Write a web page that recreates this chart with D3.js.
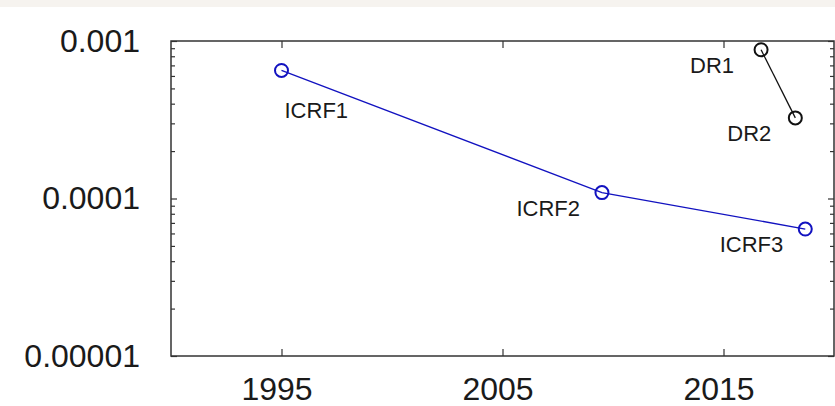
<!DOCTYPE html>
<html>
<head>
<meta charset="utf-8">
<script src="https://cdn.jsdelivr.net/npm/d3@7"></script>
<style>
  body { margin: 0; background: #fff; }
  text { font-family: "Liberation Sans", Arial, sans-serif; fill: #1a1a1a; }
</style>
</head>
<body>
<div id="chart"></div>
<script>
// data
var icrfYears = [1995, 2009.5, 2018.7];
var icrfValues = [6.5e-4, 1.09e-4, 6.4e-5];
var icrfLabels = ["ICRF1", "ICRF2", "ICRF3"];

var drYears = [2016.7, 2018.25];
var drValues = [8.8e-4, 3.25e-4];
var drLabels = ["DR1", "DR2"];

var xTicks = [1995, 2005, 2015];
var yTicks = [1e-5, 1e-4, 1e-3];
var yTickLabels = ["0.00001", "0.0001", "0.001"];

// label placement (anchor, dx, dy)
var icrfLabelPos = [["start", 3, 48], ["end", -22, 23], ["end", -22, 23]];
var drLabelPos = [["end", -27, 23], ["end", -24, 23]];

var svgWidth = 835;
var svgHeight = 406;
var margin = { top: 41, right: 1, bottom: 50, left: 171 };
var width = svgWidth - margin.left - margin.right;
var height = svgHeight - margin.top - margin.bottom;

var svg = d3.select("#chart")
  .append("svg")
  .attr("width", svgWidth)
  .attr("height", svgHeight);

// faint band along the top
svg.append("rect")
  .attr("x", 0).attr("y", 0)
  .attr("width", svgWidth).attr("height", 7)
  .attr("fill", "#f6f3ef");

var g = svg.append("g")
  .attr("transform", `translate(${margin.left}, ${margin.top})`);

var x = d3.scaleLinear().domain([1990, 2020]).range([0, width]);
var y = d3.scaleLog().domain([1e-5, 1e-3]).range([height, 0]);

var minorY = [];
[1e-5, 1e-4].forEach(function(d) {
  for (var k = 2; k <= 9; k++) minorY.push(d * k);
});

function style(sel) {
  sel.select(".domain").remove();
  sel.selectAll(".tick line").attr("stroke", "#333").attr("stroke-width", 1.2);
}

// bottom axis with labels
g.append("g")
  .attr("transform", `translate(0, ${height})`)
  .call(d3.axisBottom(x).tickValues(xTicks).tickFormat(d3.format("d")).tickSize(-7).tickPadding(21))
  .call(style)
  .selectAll("text")
  .attr("dx", -5)
  .style("font-size", "32px")
  .style("font-family", "Liberation Sans, Arial, sans-serif")
  .attr("fill", "#1a1a1a");

// top axis (ticks only)
g.append("g")
  .call(d3.axisTop(x).tickValues(xTicks).tickFormat("").tickSize(-7))
  .call(style);

// left axis with labels
g.append("g")
  .call(d3.axisLeft(y).tickValues(yTicks).tickFormat((d, i) => yTickLabels[i]).tickSize(-6).tickPadding(31))
  .call(style)
  .selectAll("text")
  .style("font-size", "32px")
  .style("font-family", "Liberation Sans, Arial, sans-serif")
  .attr("fill", "#1a1a1a");

g.append("g")
  .call(d3.axisLeft(y).tickValues(minorY).tickFormat("").tickSize(-4))
  .call(style);

// right axis (ticks only)
g.append("g")
  .attr("transform", `translate(${width}, 0)`)
  .call(d3.axisRight(y).tickValues(yTicks).tickFormat("").tickSize(-6))
  .call(style);

g.append("g")
  .attr("transform", `translate(${width}, 0)`)
  .call(d3.axisRight(y).tickValues(minorY).tickFormat("").tickSize(-4))
  .call(style);

// frame
g.append("rect")
  .attr("width", width)
  .attr("height", height)
  .attr("fill", "none")
  .attr("stroke", "#333")
  .attr("stroke-width", 1.5);

function drawSeries(years, values, labels, pos, color) {
  var pts = years.map((d, i) => [x(d), y(values[i])]);

  g.append("path")
    .datum(pts)
    .attr("d", d3.line())
    .attr("fill", "none")
    .attr("stroke", color)
    .attr("stroke-width", 1.3);

  g.selectAll(null)
    .data(pts)
    .enter()
    .append("circle")
    .attr("cx", d => d[0])
    .attr("cy", d => d[1])
    .attr("r", 6.5)
    .attr("fill", "none")
    .attr("stroke", color)
    .attr("stroke-width", 2);

  g.selectAll(null)
    .data(pts)
    .enter()
    .append("text")
    .attr("x", (d, i) => d[0] + pos[i][1])
    .attr("y", (d, i) => d[1] + pos[i][2])
    .attr("text-anchor", (d, i) => pos[i][0])
    .style("font-size", "22px")
    .text((d, i) => labels[i]);
}

drawSeries(icrfYears, icrfValues, icrfLabels, icrfLabelPos, "#1212c0");
drawSeries(drYears, drValues, drLabels, drLabelPos, "#111");
</script>
</body>
</html>
